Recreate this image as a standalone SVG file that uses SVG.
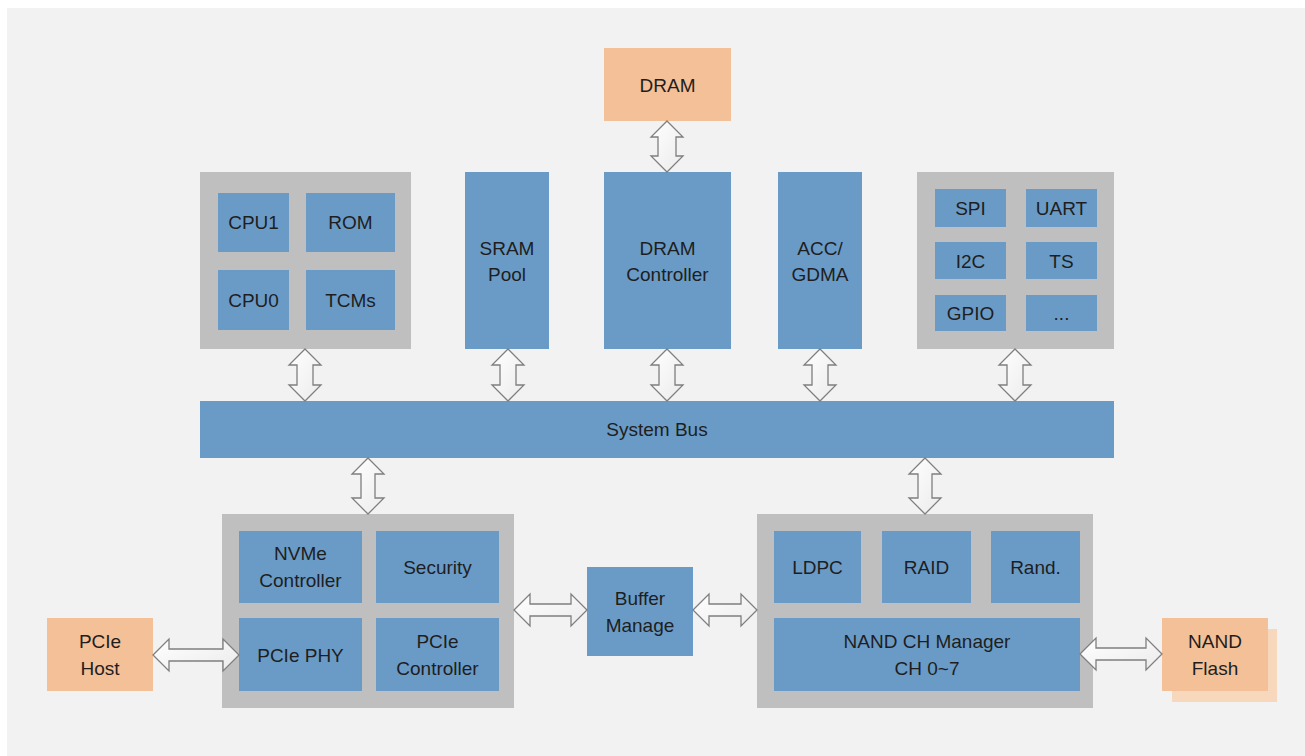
<svg xmlns="http://www.w3.org/2000/svg" width="1305" height="756" viewBox="0 0 1305 756">
<defs>
<linearGradient id="ag" x1="0" y1="0" x2="1" y2="1">
<stop offset="0" stop-color="#ffffff"/>
<stop offset="1" stop-color="#ebebeb"/>
</linearGradient>
<style>
.bg{fill:#f2f2f2}
.grp{fill:#bfbfbf}
.blk{fill:#6a9bc7}
.ext{fill:#f4c097}
.sh{fill:#f8d8bc}
.t{font-family:"Liberation Sans",Arial,sans-serif;font-size:19px;fill:#1e1e1e;text-anchor:middle}
.arr{fill:url(#ag);stroke:#7f7f7f;stroke-width:1.3;stroke-linejoin:miter}
</style>
</defs>
<rect x="0" y="0" width="1305" height="756" fill="#ffffff"/>
<rect class="bg" x="7" y="8" width="1298" height="748"/>

<g id="dram">
<rect class="ext" x="604" y="48" width="127" height="73"/>
<text class="t" x="667.5" y="92">DRAM</text>
</g>

<g id="cpu-group">
<rect class="grp" x="200" y="172" width="211" height="177"/>
<g id="cpu1"><rect class="blk" x="218" y="193" width="71" height="59"/><text class="t" x="253.5" y="229">CPU1</text></g>
<g id="rom"><rect class="blk" x="306" y="193" width="89" height="59"/><text class="t" x="350.5" y="229">ROM</text></g>
<g id="cpu0"><rect class="blk" x="218" y="270" width="71" height="60"/><text class="t" x="253.5" y="307">CPU0</text></g>
<g id="tcms"><rect class="blk" x="306" y="270" width="89" height="60"/><text class="t" x="350.5" y="307">TCMs</text></g>
</g>

<g id="sram">
<rect class="blk" x="465" y="172" width="84" height="177"/>
<text class="t" x="507" y="255">SRAM</text>
<text class="t" x="507" y="281">Pool</text>
</g>

<g id="dram-ctrl">
<rect class="blk" x="604" y="172" width="127" height="177"/>
<text class="t" x="667.5" y="255">DRAM</text>
<text class="t" x="667.5" y="281">Controller</text>
</g>

<g id="acc">
<rect class="blk" x="778" y="172" width="84" height="177"/>
<text class="t" x="820" y="255">ACC/</text>
<text class="t" x="820" y="281">GDMA</text>
</g>

<g id="periph-group">
<rect class="grp" x="917" y="172" width="197" height="177"/>
<g id="spi"><rect class="blk" x="935" y="189" width="71" height="38"/><text class="t" x="970.5" y="215">SPI</text></g>
<g id="uart"><rect class="blk" x="1026" y="189" width="71" height="38"/><text class="t" x="1061.5" y="215">UART</text></g>
<g id="i2c"><rect class="blk" x="935" y="242" width="71" height="37"/><text class="t" x="970.5" y="268">I2C</text></g>
<g id="ts"><rect class="blk" x="1026" y="242" width="71" height="37"/><text class="t" x="1061.5" y="268">TS</text></g>
<g id="gpio"><rect class="blk" x="935" y="295" width="71" height="36"/><text class="t" x="970.5" y="320">GPIO</text></g>
<g id="etc"><rect class="blk" x="1026" y="295" width="71" height="36"/><text class="t" x="1061.5" y="320">...</text></g>
</g>

<g id="system-bus">
<rect class="blk" x="200" y="401" width="914" height="57"/>
<text class="t" x="657" y="436">System Bus</text>
</g>

<g id="host-group">
<rect class="grp" x="222" y="514" width="292" height="194"/>
<g id="nvme"><rect class="blk" x="239" y="531" width="123" height="72"/><text class="t" x="300.5" y="560">NVMe</text><text class="t" x="300.5" y="587">Controller</text></g>
<g id="security"><rect class="blk" x="376" y="531" width="123" height="72"/><text class="t" x="437.5" y="574">Security</text></g>
<g id="pcie-phy"><rect class="blk" x="239" y="618" width="123" height="73"/><text class="t" x="300.5" y="662">PCIe PHY</text></g>
<g id="pcie-ctrl"><rect class="blk" x="376" y="618" width="123" height="73"/><text class="t" x="437.5" y="648">PCIe</text><text class="t" x="437.5" y="675">Controller</text></g>
</g>

<g id="buffer">
<rect class="blk" x="587" y="567" width="106" height="89"/>
<text class="t" x="640" y="605">Buffer</text>
<text class="t" x="640" y="632">Manage</text>
</g>

<g id="nand-group">
<rect class="grp" x="757" y="514" width="336" height="194"/>
<g id="ldpc"><rect class="blk" x="774" y="531" width="87" height="72"/><text class="t" x="817.5" y="574">LDPC</text></g>
<g id="raid"><rect class="blk" x="882" y="531" width="89" height="72"/><text class="t" x="926.5" y="574">RAID</text></g>
<g id="rand"><rect class="blk" x="991" y="531" width="89" height="72"/><text class="t" x="1035.5" y="574">Rand.</text></g>
<g id="nand-ch"><rect class="blk" x="774" y="618" width="306" height="73"/><text class="t" x="927" y="648">NAND CH Manager</text><text class="t" x="927" y="675">CH 0~7</text></g>
</g>

<g id="pcie-host">
<rect class="ext" x="47" y="618" width="106" height="73"/>
<text class="t" x="100" y="648">PCIe</text>
<text class="t" x="100" y="675">Host</text>
</g>

<g id="nand-flash">
<rect class="sh" x="1172" y="629" width="105" height="73"/>
<rect class="ext" x="1162" y="618" width="106" height="73"/>
<text class="t" x="1215" y="648">NAND</text>
<text class="t" x="1215" y="675">Flash</text>
</g>

<g id="connectors">
<path class="arr" d="M667,121 L683,137 L676,137 L676,156 L683,156 L667,172 L651,156 L658,156 L658,137 L651,137 Z"/>
<path class="arr" d="M305,349 L321,365 L313,365 L313,385 L321,385 L305,401 L289,385 L297,385 L297,365 L289,365 Z"/>
<path class="arr" d="M508,349 L524,365 L516,365 L516,385 L524,385 L508,401 L492,385 L500,385 L500,365 L492,365 Z"/>
<path class="arr" d="M667,349 L683,365 L675,365 L675,385 L683,385 L667,401 L651,385 L659,385 L659,365 L651,365 Z"/>
<path class="arr" d="M820,349 L836,365 L828,365 L828,385 L836,385 L820,401 L804,385 L812,385 L812,365 L804,365 Z"/>
<path class="arr" d="M1015,349 L1031,365 L1023,365 L1023,385 L1031,385 L1015,401 L999,385 L1007,385 L1007,365 L999,365 Z"/>
<path class="arr" d="M368,458 L384,474 L375,474 L375,498 L384,498 L368,514 L352,498 L361,498 L361,474 L352,474 Z"/>
<path class="arr" d="M925,458 L941,474 L932,474 L932,498 L941,498 L925,514 L909,498 L918,498 L918,474 L909,474 Z"/>
<path class="arr" d="M153,655 L169,639 L169,649 L223,649 L223,639 L239,655 L223,671 L223,661 L169,661 L169,671 Z"/>
<path class="arr" d="M514,610 L530,594 L530,604 L571,604 L571,594 L587,610 L571,626 L571,616 L530,616 L530,626 Z"/>
<path class="arr" d="M693,610 L709,594 L709,604 L741,604 L741,594 L757,610 L741,626 L741,616 L709,616 L709,626 Z"/>
<path class="arr" d="M1080,654 L1096,638 L1096,648 L1146,648 L1146,638 L1162,654 L1146,670 L1146,660 L1096,660 L1096,670 Z"/>
</g>
</svg>
